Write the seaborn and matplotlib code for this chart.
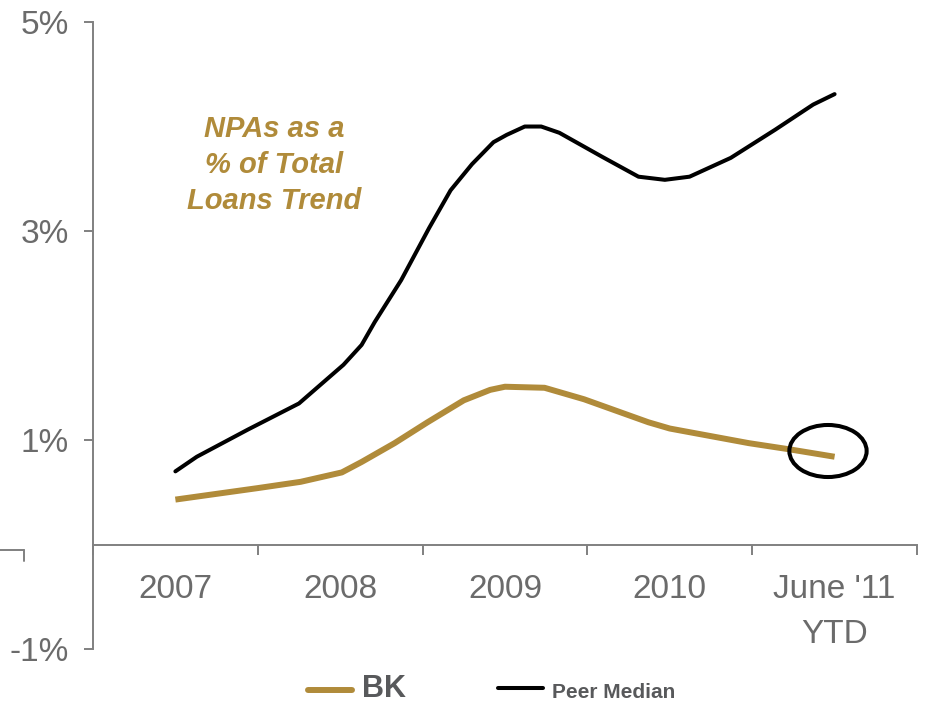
import matplotlib
matplotlib.use("Agg")
import matplotlib.pyplot as plt
from matplotlib.lines import Line2D
from matplotlib.patches import Ellipse
import seaborn as sns
import pandas as pd

# ---- data ----
categories = ["2007", "2008", "2009", "2010", "June '11\nYTD"]
y_ticks = [-1, 1, 3, 5]
y_tick_labels = ["-1%", "1%", "3%", "5%"]

peer_x = [0.00, 0.13, 0.44, 0.75, 1.02, 1.13, 1.21, 1.37, 1.54, 1.67, 1.80, 1.93,
          2.01, 2.12, 2.22, 2.33, 2.59, 2.81, 2.97, 3.12, 3.37, 3.64, 3.87, 4.00]
peer_y = [0.70, 0.84, 1.10, 1.35, 1.72, 1.91, 2.13, 2.53, 3.03, 3.39, 3.64, 3.85,
          3.92, 4.00, 4.00, 3.94, 3.71, 3.52, 3.49, 3.52, 3.70, 3.97, 4.21, 4.31]

bk_x = [0.00, 0.50, 0.76, 1.01, 1.13, 1.33, 1.53, 1.75, 1.91, 2.00, 2.24, 2.48,
        2.87, 3.00, 3.48, 3.73, 4.00]
bk_y = [0.43, 0.54, 0.60, 0.69, 0.79, 0.97, 1.17, 1.38, 1.48, 1.51, 1.50, 1.39,
        1.17, 1.11, 0.97, 0.91, 0.84]

title_text = "NPAs as a\n% of Total\nLoans Trend"

GOLD = "#B08B3A"
GRAY = "#6b6b6b"
AXIS = "#808080"

sns.set_style("white")
plt.rcParams['font.family'] = ['Liberation Sans', 'DejaVu Sans']

fig = plt.figure(figsize=(9.27, 7.06), dpi=100)
ax = fig.add_axes([0.1003, 0.0807, 0.8889, 0.8881])

df_peer = pd.DataFrame({"x": peer_x, "y": peer_y})
df_bk = pd.DataFrame({"x": bk_x, "y": bk_y})
sns.lineplot(data=df_peer, x="x", y="y", ax=ax, color="black", lw=2.9,
             estimator=None, sort=False)
sns.lineplot(data=df_bk, x="x", y="y", ax=ax, color=GOLD, lw=4.3,
             estimator=None, sort=False, solid_capstyle="butt")

ax.set_xlim(-0.5, 4.5)
ax.set_ylim(-1, 5)
ax.set_xlabel("")
ax.set_ylabel("")

# spines
for s in ["top", "right"]:
    ax.spines[s].set_visible(False)
ax.spines["left"].set_color(AXIS)
ax.spines["left"].set_linewidth(1.4)
ax.spines["bottom"].set_color(AXIS)
ax.spines["bottom"].set_linewidth(1.4)
ax.spines["bottom"].set_position(("data", 0))

# y ticks
ax.set_yticks(y_ticks)
ax.set_yticklabels(y_tick_labels)
ax.tick_params(axis="y", which="major", direction="out", length=6.5, width=1.4,
               color=AXIS, pad=11, labelsize=24, labelcolor=GRAY, left=True)

# x ticks: labels at category centres, tick marks at boundaries
ax.set_xticks(range(len(categories)))
ax.set_xticklabels(categories)
ax.set_xticks([i - 0.5 for i in range(len(categories) + 1)], minor=True)
ax.tick_params(axis="x", which="major", length=0, pad=21, labelsize=24,
               labelcolor=GRAY, bottom=True)
ax.tick_params(axis="x", which="minor", direction="out", length=7.5, width=1.4,
               color=AXIS, bottom=True)
for lbl in ax.get_xticklabels():
    lbl.set_linespacing(1.6)

# annotation title inside plot
ax.text(0.597, 3.63, title_text, ha="center", va="center", color=GOLD,
        fontsize=21, fontweight="bold", fontstyle="italic", linespacing=1.35)

# ellipse highlighting the last BK point
ax.add_patch(Ellipse((3.96, 0.895), 0.469, 0.498, fill=False, edgecolor="black",
                     lw=2.9, zorder=5))

# stray axis fragment at far left (as in reference)
fig.add_artist(Line2D([0.0, 24 / 927], [1 - 550 / 706, 1 - 550 / 706],
                      color=AXIS, lw=1.4, transform=fig.transFigure))
fig.add_artist(Line2D([24 / 927, 24 / 927], [1 - 550 / 706, 1 - 561 / 706],
                      color=AXIS, lw=1.4, transform=fig.transFigure))

# legend (manual)
ly_bk = 1 - 690 / 706
fig.add_artist(Line2D([308 / 927, 352 / 927], [ly_bk, ly_bk], color=GOLD, lw=4.3,
                      transform=fig.transFigure))
fig.text(362 / 927, 1 - 689 / 706, "BK", ha="left", va="center", fontsize=22,
         fontweight="bold", color="#58595B")
ly_pm = 1 - 688 / 706
fig.add_artist(Line2D([498 / 927, 543 / 927], [ly_pm, ly_pm], color="black", lw=2.9,
                      transform=fig.transFigure))
fig.text(552 / 927, 1 - 693 / 706, "Peer Median", ha="left", va="center", fontsize=15,
         fontweight="bold", color="#58595B")

fig.savefig("out.png", dpi=100)
